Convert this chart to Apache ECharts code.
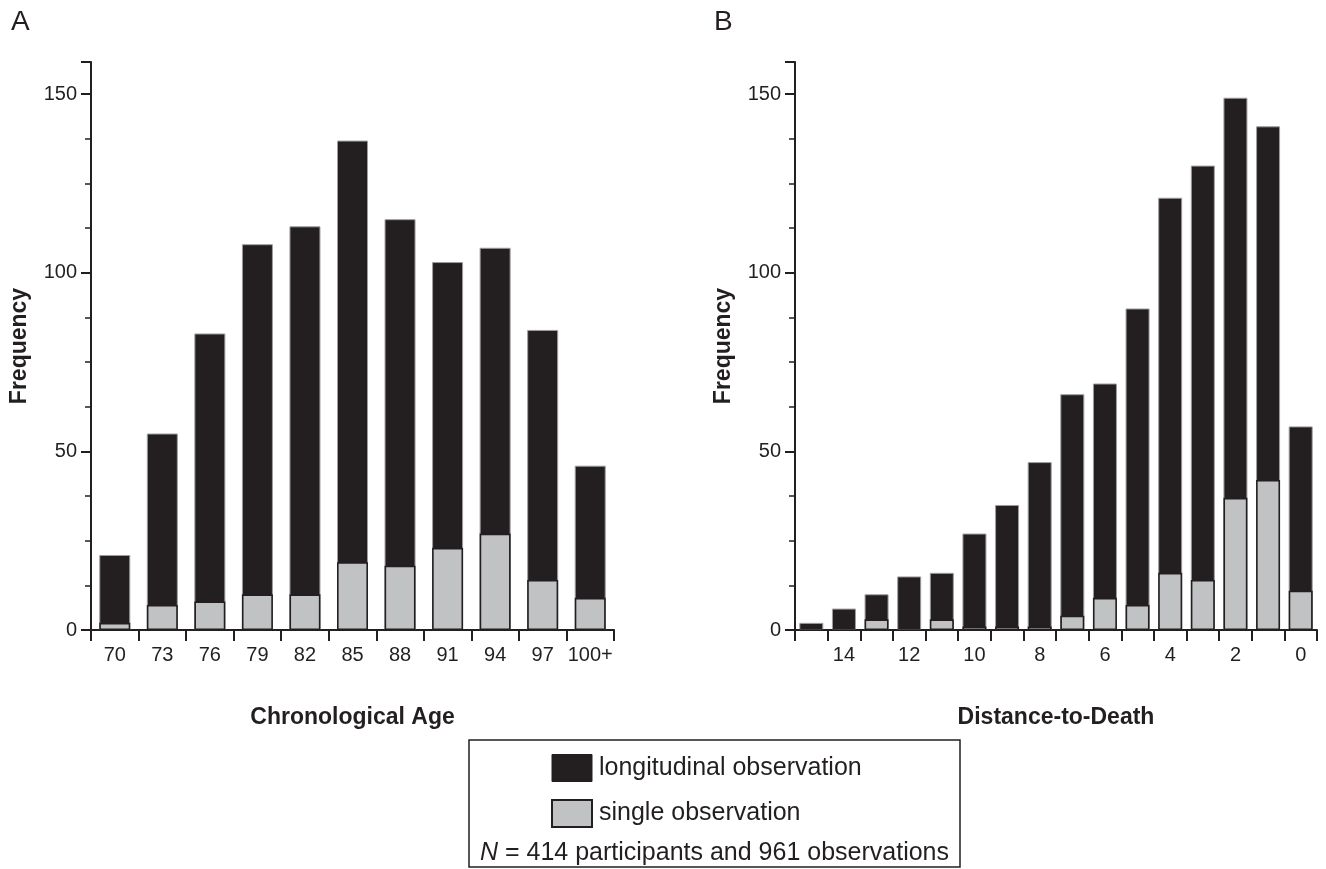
<!DOCTYPE html>
<html>
<head>
<meta charset="utf-8">
<script src="https://cdn.jsdelivr.net/npm/echarts@6/dist/echarts.min.js"></script>
<style>
html,body{margin:0;padding:0;background:#fff;}
#c{width:1326px;height:869px;}
</style>
</head>
<body>
<div id="c"></div>
<script>
// ---- data ----
var ageCategories = ['70','73','76','79','82','85','88','91','94','97','100+'];
var ageTotal  = [21,55,83,108,113,137,115,103,107,84,46];
var ageSingle = [2,7,8,10,10,19,18,23,27,14,9];

var dtdCategories = ['15','14','13','12','11','10','9','8','7','6','5','4','3','2','1','0'];
var dtdTotal  = [2,6,10,15,16,27,35,47,66,69,90,121,130,149,141,57];
var dtdSingle = [0,0,3,0,3,1,1,1,4,9,7,16,14,37,42,11];

var yTicks = [0,50,100,150];
var seriesNames = ['longitudinal observation','single observation'];

// ---- styles ----
var INK = '#231f20';
var GRAY = '#c1c2c4';
var FONT = '"Liberation Sans", Arial, Helvetica, sans-serif';

function yAxis(idx){
  return {
    type:'value', gridIndex:idx, min:0, max:159, interval:50,
    name:'Frequency', nameLocation:'middle', nameGap:60, nameRotate:90,
    nameTextStyle:{fontFamily:FONT,fontSize:23,fontWeight:'bold',color:INK},
    axisLine:{show:true,lineStyle:{color:INK,width:2}},
    axisTick:{show:true,length:10,lineStyle:{color:INK,width:2}},
    minorTick:{show:true,splitNumber:4,length:6,lineStyle:{color:INK,width:1.5}},
    splitLine:{show:false},
    axisLabel:{fontFamily:FONT,fontSize:20,color:INK,margin:14,
      formatter:function(v){return yTicks.indexOf(v)>=0?String(v):'';}}
  };
}
function xAxis(idx,cats,name,labelInterval){
  return {
    type:'category', gridIndex:idx, data:cats,
    name:name, nameLocation:'middle', nameGap:76,
    nameTextStyle:{fontFamily:FONT,fontSize:23,fontWeight:'bold',color:INK},
    axisLine:{show:true,lineStyle:{color:INK,width:2}},
    axisTick:{show:true,interval:0,length:11,lineStyle:{color:INK,width:2}},
    axisLabel:{fontFamily:FONT,fontSize:20,color:INK,margin:15,interval:labelInterval}
  };
}
function blackSeries(xi,data,w){
  return {type:'bar',name:seriesNames[0],xAxisIndex:xi,yAxisIndex:xi,data:data,
    barWidth:w,barGap:'-100%',z:2,
    itemStyle:{color:INK,borderColor:'#9d9d9f',borderWidth:1},
    emphasis:{disabled:true},animation:false};
}
function graySeries(xi,data,w){
  return {type:'bar',name:seriesNames[1],xAxisIndex:xi,yAxisIndex:xi,data:data,
    barWidth:w,barGap:'-100%',z:3,
    itemStyle:{color:GRAY,borderColor:INK,borderWidth:1.6},
    emphasis:{disabled:true},animation:false};
}

var chart = echarts.init(document.getElementById('c'),null,{renderer:'canvas'});
chart.setOption({
  animation:false,
  backgroundColor:'#fff',
  grid:[
    {left:91,right:712,top:62,bottom:239,containLabel:false},
    {left:795,right:9,top:62,bottom:239,containLabel:false}
  ],
  xAxis:[
    xAxis(0,ageCategories,'Chronological Age',0),
    xAxis(1,dtdCategories,'Distance-to-Death',function(i){return i%2===1;})
  ],
  yAxis:[yAxis(0),yAxis(1)],
  legend:{
    orient:'vertical', left:546, top:749, itemWidth:40, itemHeight:27, itemGap:17,
    icon:'rect', selectedMode:false,
    textStyle:{fontFamily:FONT,fontSize:25,color:INK,padding:[0,0,0,2]},
    data:[
      {name:seriesNames[0],itemStyle:{color:INK,borderColor:INK,borderWidth:1}},
      {name:seriesNames[1],itemStyle:{color:GRAY,borderColor:INK,borderWidth:2}}
    ]
  },
  graphic:[
    {type:'text',left:11,top:8,style:{text:'A',fontFamily:FONT,fontSize:28,fill:INK}},
    {type:'text',left:714,top:8,style:{text:'B',fontFamily:FONT,fontSize:28,fill:INK}},
    {type:'rect',shape:{x:469,y:740,width:491,height:127},style:{fill:'none',stroke:INK,lineWidth:1.5},z:0},
    {type:'text',x:714.5,y:853,style:{
      text:'{i|N} = 414 participants and 961 observations',
      align:'center',verticalAlign:'middle',fontFamily:FONT,fontSize:25,fill:INK,
      rich:{i:{fontStyle:'italic',fontFamily:FONT,fontSize:25,fill:INK}}
    }}
  ],
  series:[
    blackSeries(0,ageTotal,31), graySeries(0,ageSingle,31),
    blackSeries(1,dtdTotal,24), graySeries(1,dtdSingle,24)
  ]
});
</script>
</body>
</html>
